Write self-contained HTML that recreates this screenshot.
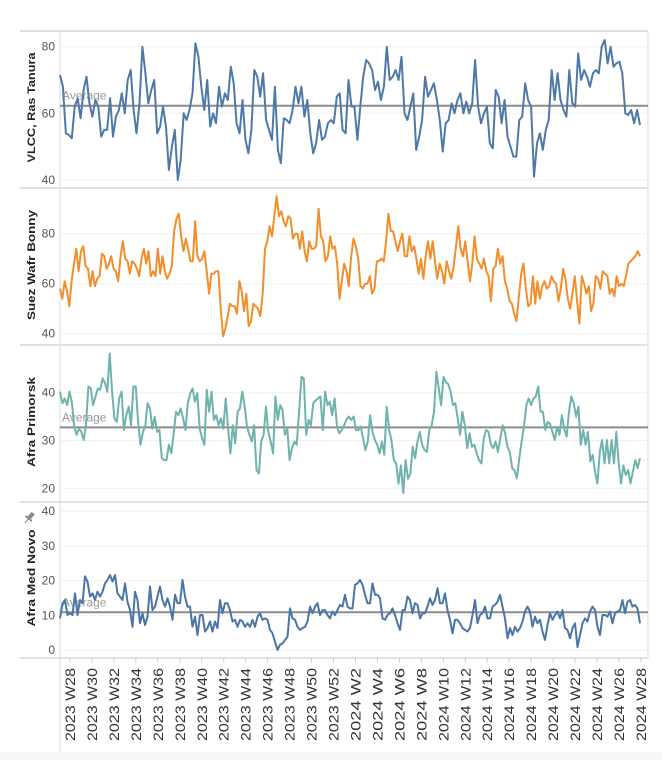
<!DOCTYPE html>
<html><head><meta charset="utf-8"><style>
html,body{margin:0;padding:0;background:#fff;}
svg{display:block;font-family:"Liberation Sans",sans-serif;}
</style></head><body>
<svg id="chart" width="662" height="760" viewBox="0 0 662 760" xmlns="http://www.w3.org/2000/svg">
<rect x="0" y="752" width="662" height="8" fill="#f6f6f6"/>
<g id="frame"></g>
<g id="panels"></g>
<g id="xaxis"></g>
<g transform="translate(30,517) rotate(40)">
<rect x="-2" y="-5" width="4" height="6" fill="#888"/><rect x="-4" y="1" width="8" height="2" fill="#888"/><line x1="0" y1="3" x2="0" y2="8" stroke="#888" stroke-width="1"/>
</g>
</svg>
<script>
const vlccValues=[71.5,68,54,53.5,52.5,62,64.5,58.5,67,71,63,59,64,62,53,55,55,64.5,53,59,61,66,60,70,73,61,54,63,80,72,63,67,70,54,56,62,56,43,50,55,40,46,60,58,61,66,81,77,68,61,70,56,60,57,68,62,66,64,74,69,57,54,64,52,48,55,73,71,65,72,58,55,52,68,49,45,58.5,58,57,61,68,63,68,59,64,54,48,51,58,52,53,57,58,
57,65,66,55,54,70,62,62,52,62,71,76,75,73,67,69.5,64,68,80,70,71,73,70,77,60,58,62,66,49,53,58,71,65,67,69,64,58,48.5,57,58,63,60,64,66,60,63.5,60,63,76,62,57,60,62,51,49.5,67,65,57,64,53,50,47,47,58,59,69,64,62,41,51,54,49,55,58,73,64,72,64,61,59,73,63,62,78,70,73,71,68,72,73,72,80,82,75,80,74,75,75.5,72,60,59.5,61,57,61,56.5];
const suezValues=[58,54,61,57,51,61,68,74,65,73,75,67,66,59,65,59,62,63,72,71,66,68,71,66,65,61,71,77,70,69,64,69,68,66,63,70,74,68,73,63,65,63,74,64,71,65,62,64,67,81,86,88,79,73,78,74,69,69,85,71,69,70,73,65,56,64,64,65,65,50,39,42,47,52,51,51,48,61,57,49,56,43,45,52,51,50,47,56,74,77,83,79,87,95,87,89,85,83,87,86,78,80,80,74,81,73,69,77,74,74,75,90,79,77,69,71,79,74,75,68,54,61,68,65,59,
71,78,75,70,59,58,60,60,63,56,58,69,69,70,69,77,88,81,81,77,73,77,80,71,71,79,73,75,70,64,70,62,71,77,70,77,69,62,68,65,60,69,65,62,67,75,83,74,71,77,69,61,68,79,70,68,66,70,65,63,53,66,67,74,68,71,61,58,53,52,48,45,55,64,68,58,51,52,63,52,61,54,59,61,58,59,63,61,60,53,58,66,62,54,50,56,63,53,44,63,60,56,59,49,52,63,62,58,65,64,63,56,58,55,63,59,60,59,63,68,69,70,71,73,71];
const primorskValues=[40.2,37.8,38.8,37.4,40.2,38.1,32.9,31.2,32.5,31.8,30.1,33.2,41.3,40.9,37.4,39.2,40.9,40.6,43,42,40.2,48.2,40.2,34.6,33.9,38.8,40.2,32.2,35.3,37.1,33.2,41.3,41.3,33.9,29.1,31.8,32.9,37.8,36.7,32.5,35,31.8,32.2,26.3,25.9,25.9,29.1,27.3,31.2,36,35.3,36.7,34.6,32.2,37.8,39.9,40.9,38.1,39.9,32.5,30.5,29.1,40.6,36,40.2,34.3,35.3,33.2,34.6,32.5,38.8,32.5,27.3,33.2,29.4,36,36.7,40.2,37.1,32.9,31.2,29.8,33.2,23.8,23.1,29.8,31.2,37.1,31.8,29.8,27.3,39.2,34.3,37.4,36.4,31.2,32.5,25.9,28.4,29.8,29.1,36,43.3,43,31.2,34.3,33.2,37.8,38.4,38.8,39.2,32.2,40.2,37.4,38.1,35.3,38.8,
32.9,31.5,32.2,33.2,34.3,35,34.3,35,32.2,32.2,32.9,30.5,28,29.8,35.3,31.8,30.1,29.1,27.3,29.8,27,37.1,32.2,30.1,25.9,25.2,21,24.8,19,25.9,22,23.1,28.7,26.3,29.8,31.8,29.1,28,27.6,32.2,33.2,36,44.4,40.9,37.4,43.3,42.2,41.8,40.2,37.4,37.8,34.6,31.2,36,33.2,28.4,31.5,28.7,29.1,27.3,25.9,25.2,30.5,32.2,31.8,29.1,28.4,29.8,27.6,30.5,33.2,31.5,28.7,27.6,24.2,23.8,22.1,26.3,29.8,32.9,37.4,38.8,37.4,38.8,39.2,41.3,36,36,32.2,33.9,33.5,31.8,30.1,32.9,31.2,35.3,32.5,30.8,36,39.2,37.8,35,37.1,29.1,32.2,29.1,31.8,25.6,27,23.5,21,27.6,30.1,25.2,30.1,25.2,30.1,25.2,31.8,25.2,21,24.8,22.8,23.8,21,23.5,25.9,24.2,26.3];
const novoValues=[9.1,13.5,14.4,10.1,10.6,10.1,16.3,10.1,14.4,13.5,21.2,19.7,15.4,16.3,14.4,16.8,15.4,16.8,19.2,20.2,21.6,19.7,21.6,16.3,15.4,14.4,19.2,13.9,11.5,6.7,16.8,14.4,7.7,10.6,7.2,9.6,18.3,11.5,12.5,15.4,18.3,14.4,12.5,14.9,12.5,8.7,15.9,13.5,13.5,20.2,15.4,12.5,12.5,6.7,9.6,4.3,10.1,10.1,5.3,6.3,8.2,5.3,8.2,6.3,14.4,10.6,13.5,13.5,11.5,8.2,8.7,6.7,8.7,8.2,6.7,7.7,6.7,8.7,6.7,9.6,10.6,8.7,9.1,8.7,5.8,4.8,2.4,0,1.5,1.9,2.9,3.8,12,9.1,8.7,6.7,5.8,6.3,6.7,8.2,12.5,10.6,12.5,13.5,10.1,11.5,11.5,10.1,9.1,11.1,10.1,11.5,13,
12.5,15.9,12.5,12,12,18.8,19.2,20.2,18.8,15.9,13.5,13.5,19.2,15.9,15.9,14.9,9.1,8.7,10.1,10.6,12,10.1,7.7,5.8,11.5,11.5,15.4,14.4,10.6,13.5,13,9.1,10.6,10.6,12.5,14.9,13,14.4,17.8,13.5,13.5,16.3,11.5,8.7,4.8,8.7,8.7,7.7,6.3,5.8,5.3,6.3,10.1,14.4,7.7,10.1,10.6,12.5,9.1,9.1,12.5,13,13.9,15.9,12.5,9.1,3.4,6.3,4.3,6.7,5.3,6.3,8.2,11.1,12.5,11.1,6.7,9.6,7.7,8.7,5.3,2.9,7.2,10.6,8.7,10.1,11.1,9.1,11.5,6.3,5.8,3.4,6.3,7.7,0.8,4.3,7.7,9.1,8.2,11.1,12.5,11.5,6.7,4.3,10.1,10.1,9.6,11.1,7.7,10.6,11.1,11.5,14.4,10.6,13.9,14.4,12.5,13,12,7.7];
const panelTitles=["VLCC, Ras Tanura","Suez Wafr Bonny","Afra Primorsk","Afra Med Novo"];
const vlccTicks=[40,60,80];
const suezTicks=[40,60,80];
const primorskTicks=[20,30,40];
const novoTicks=[0,10,20,30,40];
const weekLabels=["2023 W28","2023 W30","2023 W32","2023 W34","2023 W36","2023 W38","2023 W40","2023 W42","2023 W44","2023 W46","2023 W48","2023 W50","2023 W52","2024 W2","2024 W4","2024 W6","2024 W8","2024 W10","2024 W12","2024 W14","2024 W16","2024 W18","2024 W20","2024 W22","2024 W24","2024 W26","2024 W28"];

const NS="http://www.w3.org/2000/svg";
function mk(tag,attrs,parent){const e=document.createElementNS(NS,tag);for(const k in attrs)e.setAttribute(k,attrs[k]);parent.appendChild(e);return e;}
const L=60,R=648,XS=60,XE=640;
const frame=document.getElementById('frame');
[31,188,345,502,658].forEach((y,i)=>{const l=mk('line',{x1:20,x2:R,y1:y,y2:y,stroke:'#d9d9d9','stroke-width':1.5},frame);

});
const vl=mk('line',{x1:L,x2:L,y1:31,y2:752,stroke:'#d9d9d9','stroke-width':1},frame);


const vr=mk('line',{x1:R,x2:R,y1:31,y2:658,stroke:'#e6e6e6','stroke-width':1.5},frame);



const panelDefs=[
 {vals:vlccValues,ticks:vlccTicks,color:'#4e79a7',y0:46.7,v0:80,ppu:3.33,avg:true,name:'vlcc-ras-tanura',tc:107.5,tl:110},
 {vals:suezValues,ticks:suezTicks,color:'#f28e2b',y0:233.7,v0:80,ppu:2.5,avg:false,name:'suez-wafr-bonny',tc:265,tl:110},
 {vals:primorskValues,ticks:primorskTicks,color:'#6fb3ac',y0:392.7,v0:40,ppu:4.78,avg:true,name:'afra-primorsk',tc:422,tl:90},
 {vals:novoValues,ticks:novoTicks,color:'#4a76a5',y0:650,v0:0,ppu:3.47,avg:true,name:'afra-med-novo',tc:578,tl:97}
];
const panels=document.getElementById('panels');
panelDefs.forEach((p,pi)=>{
 const g=mk('g',{},panels);
 
 
 const yS=v=>p.y0+(p.v0-v)*p.ppu;
 const xS=i=>XS+i*(XE-XS)/(p.vals.length-1);
 p.ticks.forEach(t=>{
  const gl=mk('line',{x1:L,x2:R,y1:yS(t),y2:yS(t),stroke:'#f0f0f0','stroke-width':1},g);
  
  
  const tx=mk('text',{x:55,y:yS(t)+4,'text-anchor':'end','font-size':12,fill:'#555'},g);
  tx.textContent=t;
  
  
 });
 const ti=mk('text',{x:0,y:0,'text-anchor':'middle','font-size':11,'font-weight':'bold',fill:'#222',transform:`translate(35,${p.tc}) rotate(-90)`,textLength:p.tl,lengthAdjust:'spacingAndGlyphs'},g);
 ti.textContent=panelTitles[pi];
 
 
 if(p.avg){
  const m=p.vals.reduce((a,b)=>a+b,0)/p.vals.length;
  const ay=yS(m);
  const al=mk('line',{x1:L,x2:R,y1:ay,y2:ay,stroke:'#8c8c8c','stroke-width':2},g);
  
  
  const at=mk('text',{x:62,y:ay-6,'font-size':12,fill:'#999'},g);
  at.textContent='Average';
  
  
 }
 const d=p.vals.map((v,i)=>(i?'L':'M')+xS(i).toFixed(1)+','+yS(v).toFixed(1)).join('');
 const path=mk('path',{d:d,fill:'none',stroke:p.color,'stroke-width':2,'stroke-linejoin':'round'},g);
 
 
});
const xa=document.getElementById('xaxis');
weekLabels.forEach((w,i)=>{
 const x=70+i*21.96;
 const tk=mk('line',{x1:x,x2:x,y1:658,y2:663,stroke:'#d0d0d0','stroke-width':1},xa);
 
 
 const t=mk('text',{x:0,y:0,'text-anchor':'end','font-size':14,fill:'#333',transform:`translate(${x+5},668) rotate(-90)`,textLength:73,lengthAdjust:'spacingAndGlyphs'},xa);
 t.textContent=w;
 
 
});
</script>
</body></html>
